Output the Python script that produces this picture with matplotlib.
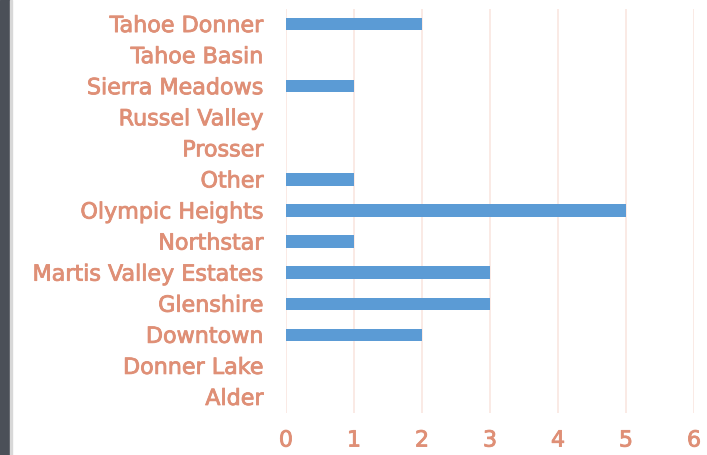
import matplotlib.pyplot as plt
import matplotlib.patheffects as pe
from matplotlib.patches import Rectangle

neighborhoods = ["Alder", "Donner Lake", "Downtown", "Glenshire", "Martis Valley Estates",
                 "Northstar", "Olympic Heights", "Other", "Prosser", "Russel Valley",
                 "Sierra Meadows", "Tahoe Basin", "Tahoe Donner"]
counts = [0, 0, 2, 3, 3, 1, 5, 1, 0, 0, 1, 0, 2]
x_ticks = [0, 1, 2, 3, 4, 5, 6]

label_color = "#df8f76"
grid_color = "#fae6e0"
bar_color = "#5b9bd5"

plt.rcParams['font.family'] = ['DejaVu Sans']

fig = plt.figure(figsize=(7.07, 4.55), dpi=100)
fig.patches.append(Rectangle((0, 0), 10 / 707, 1, transform=fig.transFigure,
                             color="#4b5058", zorder=0))
fig.patches.append(Rectangle((10 / 707, 0), 2 / 707, 1, transform=fig.transFigure,
                             color="#d8d8d8", zorder=0))

ax = fig.add_axes([286 / 707, 1 - 412.5 / 455, 408 / 707, 404 / 455])
ax.barh(range(len(neighborhoods)), counts, height=0.4, color=bar_color, zorder=3)

ax.set_xlim(0, 6)
ax.set_ylim(-0.5, len(neighborhoods) - 0.5)
ax.set_xticks(x_ticks)
ax.set_yticks(range(len(neighborhoods)))
ax.set_yticklabels(neighborhoods)
ax.grid(axis="x", color=grid_color, linewidth=1.2, zorder=0)
ax.tick_params(length=0, labelcolor=label_color, labelsize=16)
ax.tick_params(axis="y", pad=16)
ax.tick_params(axis="x", pad=13)
# slightly heavier text, like the original's medium weight
for lab in ax.get_xticklabels() + ax.get_yticklabels():
    lab.set_path_effects([pe.withStroke(linewidth=0.6, foreground=label_color)])
for s in ax.spines.values():
    s.set_visible(False)

plt.savefig("out.png")
